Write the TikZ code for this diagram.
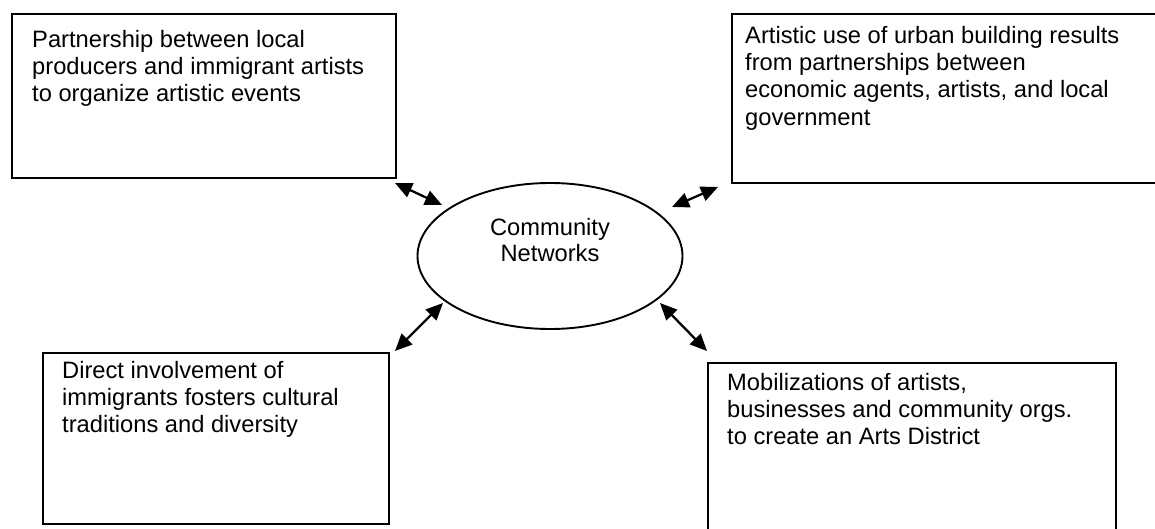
\documentclass[tikz,border=0pt]{standalone}
\usepackage{fontspec}
\setmainfont{Liberation Sans}
\usetikzlibrary{shapes.geometric,arrows.meta}
\begin{document}
\begin{tikzpicture}[x=1pt,y=-1pt,
  box/.style={draw,line width=1.9pt,rectangle,inner sep=0pt},
  boxtext/.style={anchor=north west,inner sep=0pt,align=left,font=\fontsize{23.7pt}{27.3pt}\selectfont},
  link/.style={line width=2.3pt,{Triangle[length=17pt,width=15pt]}-{Triangle[length=17pt,width=15pt]}}]
\useasboundingbox (0,0) rectangle (1155,529);
% boxes
\node[box,minimum width=384pt,minimum height=164pt,anchor=north west] (b1) at (11,13) {};
\node[box,minimum width=440pt,minimum height=169pt,anchor=north west] (b2) at (731,13) {};
\node[box,minimum width=346pt,minimum height=171pt,anchor=north west] (b3) at (42,352) {};
\node[box,minimum width=408pt,minimum height=200pt,anchor=north west] (b4) at (707,362) {};
% texts
\node[boxtext] (t1) at (32,30) {Partnership between local\\producers and immigrant artists\\to organize artistic events};
\node[boxtext] (t2) at (745,26) {Artistic use of urban building results\\from partnerships between\\economic agents, artists, and local\\government};
\node[boxtext] (t3) at (62,361) {Direct involvement of\\immigrants fosters cultural\\traditions and diversity};
\node[boxtext] (t4) at (727,373) {Mobilizations of artists,\\businesses and community orgs.\\to create an Arts District};
% ellipse
\node[draw,ellipse,line width=1.9pt,minimum width=265pt,minimum height=146pt,inner sep=0pt,align=center,font=\fontsize{23.7pt}{26.5pt}\selectfont] (e) at (550,256) {Community\\Networks\\[6pt]\mbox{}};
% arrow ends
\coordinate (a1s) at (395,183);
\coordinate (a1e) at (442,205);
\coordinate (a2s) at (718,187);
\coordinate (a2e) at (672,207);
\coordinate (a3s) at (395,351);
\coordinate (a3e) at (443,303);
\coordinate (a4s) at (707,351);
\coordinate (a4e) at (660,303);
\draw[link] (a1s) -- (a1e);
\draw[link] (a2s) -- (a2e);
\draw[link] (a3s) -- (a3e);
\draw[link] (a4s) -- (a4e);
\end{tikzpicture}
\end{document}
